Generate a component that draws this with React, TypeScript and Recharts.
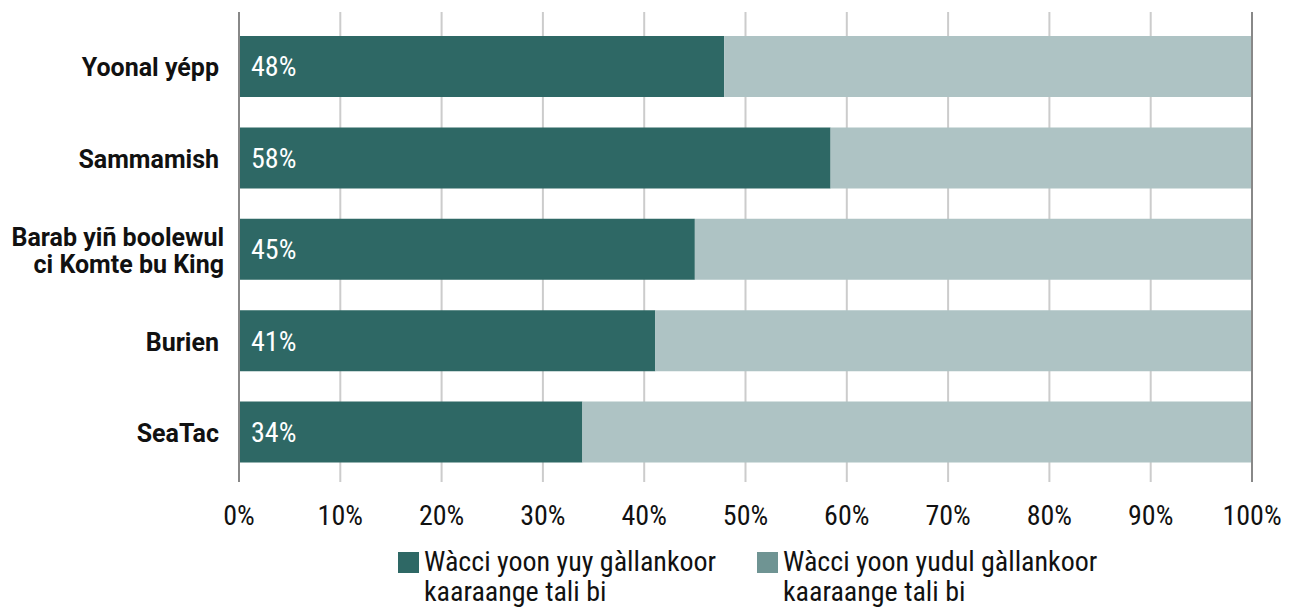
import { BarChart, Bar, XAxis, YAxis, CartesianGrid, LabelList, ReferenceLine } from 'recharts'

const categories = ['Yoonal yépp', 'Sammamish', 'Barab yiñ boolewul\nci Komte bu King', 'Burien', 'SeaTac']
const yesShare = [47.9, 58.4, 45.0, 41.1, 33.9]
const noShare = [52.1, 41.6, 55.0, 58.9, 66.1]
const xTicks = [0, 10, 20, 30, 40, 50, 60, 70, 80, 90, 100]
const seriesNames = ['Wàcci yoon yuy gàllankoor\nkaaraange tali bi', 'Wàcci yoon yudul gàllankoor\nkaaraange tali bi']

const DARK = '#2e6865'
const LIGHT = '#aec3c4'
const LIGHT_KEY = '#6f9493'
const COND = "'Roboto Condensed', 'DejaVu Sans Condensed', 'Liberation Sans Narrow', Roboto, sans-serif"

const data = categories.map((name, i) => ({ name, yes: yesShare[i], no: noShare[i] }))

const CategoryTick = ({ x, y, payload }: any) => {
  const lines = String(payload.value).split('\n')
  const lh = 27
  const y0 = y + 1 - ((lines.length - 1) * lh) / 2
  // single-line names sit a little further from the axis in the original
  const tx = x - (lines.length > 1 ? 13 : 18)
  return (
    <text textAnchor="end" fontFamily="Roboto, sans-serif" fontWeight={700} fontSize={25} fill="#111">
      {lines.map((l, i) => (
        <tspan key={i} x={tx} y={y0 + i * lh} dy="0.35em">{l}</tspan>
      ))}
    </text>
  )
}

const PercentTick = ({ x, y, payload }: any) => (
  <text x={x} y={y + 41} textAnchor="middle" fontFamily={COND} fontSize={28} fill="#111">
    {payload.value}%
  </text>
)

const BarValue = ({ x, y, height, value }: any) => (
  <text x={x + 12} y={y + height / 2} dy="0.35em" fontFamily={COND} fontSize={28} fill="#fff">
    {Math.round(value)}%
  </text>
)

export default function App() {
  const keyColors = [DARK, LIGHT_KEY]
  const keyLeft = [390, 749]
  return (
    <div style={{ position: 'relative', width: 1286, height: 602 }}>
      <BarChart
        width={1286}
        height={602}
        data={data}
        layout="vertical"
        margin={{ top: 4, right: 42, bottom: 68, left: 0 }}
      >
        <CartesianGrid horizontal={false} stroke="#cccccc" strokeWidth={2} />
        <XAxis
          type="number"
          domain={[0, 100]}
          ticks={xTicks}
          axisLine={false}
          tickLine={false}
          tickSize={0}
          height={60}
          tick={<PercentTick />}
          interval={0}
        />
        <YAxis
          type="category"
          dataKey="name"
          width={231}
          axisLine={false}
          tickLine={false}
          tickSize={0}
          padding={{ top: 9, bottom: 4 }}
          tick={<CategoryTick />}
          interval={0}
        />
        <Bar dataKey="yes" stackId="a" fill={DARK} barSize={61} isAnimationActive={false}>
          <LabelList dataKey="yes" content={<BarValue />} />
        </Bar>
        <Bar dataKey="no" stackId="a" fill={LIGHT} barSize={61} isAnimationActive={false} />
        <ReferenceLine x={0} stroke="#888" strokeWidth={2} />
        <ReferenceLine x={100} stroke="#888" strokeWidth={2} />
      </BarChart>
      {seriesNames.map((name, i) => (
        <div
          key={i}
          style={{ position: 'absolute', left: keyLeft[i], top: 544, display: 'flex', alignItems: 'flex-start' }}
        >
          <div style={{ width: 21, height: 21, background: keyColors[i], marginRight: 5 }} />
          <div
            style={{
              fontFamily: COND,
              fontSize: 28,
              lineHeight: '30px',
              color: '#111',
              whiteSpace: 'pre',
              marginTop: -5,
            }}
          >
            {name}
          </div>
        </div>
      ))}
    </div>
  )
}
